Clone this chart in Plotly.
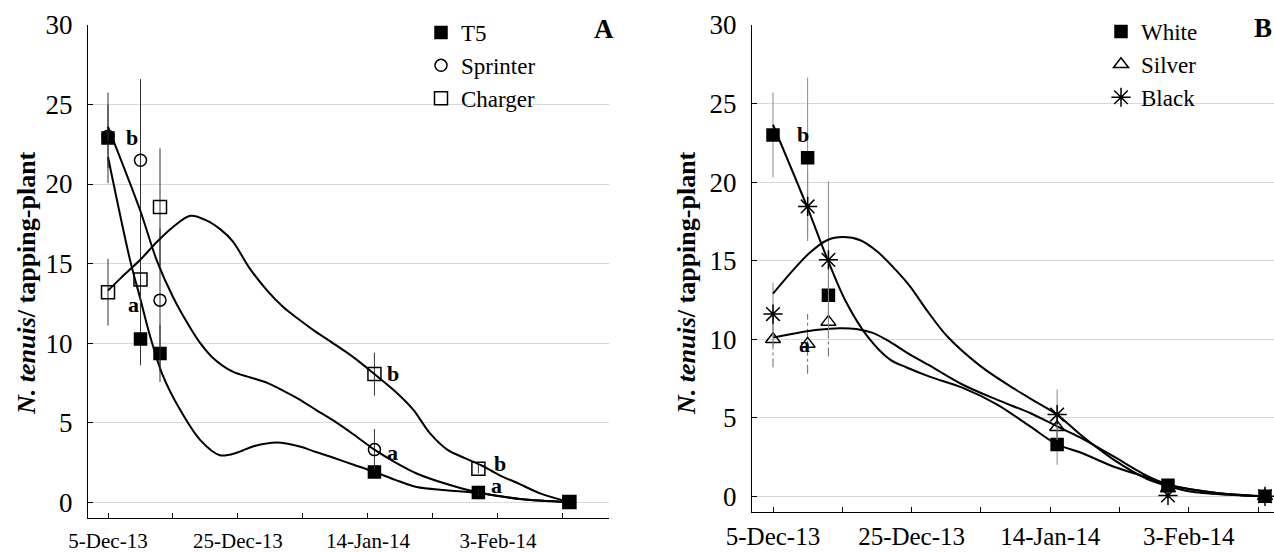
import plotly.graph_objects as go
import pandas as pd

# ---------------- data ----------------
dates = ["2013-12-05", "2013-12-10", "2013-12-13", "2014-01-15", "2014-01-31", "2014-02-14"]
start = pd.Timestamp("2013-12-05")

# Panel A (cultivars)
t5 = [22.9, 10.25, 9.35, 1.9, 0.6, 0.0]
t5_err = [2.85, 1.65, 1.8, 0.3, 0.2, 0.0]
sprinter = [23.0, 21.5, 12.7, 3.3, 0.6, 0.0]
sprinter_err = [2.0, 5.1, 4.5, 1.3, 0.2, 0.0]
charger = [13.2, 14.0, 18.55, 8.05, 2.1, 0.0]
charger_err = [2.1, 2.5, 3.7, 1.35, 0.3, 0.0]

# Panel B (mulch colour)
white = [23.0, 21.55, 12.8, 3.3, 0.7, 0.0]
white_err = [2.7, 5.1, 1.5, 1.3, 0.2, 0.0]
silver = [10.0, 9.7, 11.1, 4.4, 0.5, 0.0]
silver_err = [1.8, 1.9, 2.2, 0.8, 0.2, 0.0]
black = [11.6, 18.45, 15.05, 5.2, 0.05, 0.0]
black_err = [2.0, 2.2, 5.0, 1.6, 0.2, 0.0]

# fitted trend curves (days after 5-Dec-13, value)
t5_fit_days = [0, 3.4, 4.9, 6.5, 8.3, 11.1, 14.2, 17.2, 19.8, 22.3, 26.0, 29.5, 32.0, 34.6, 37.8, 41, 44.2,
               47.5, 52.0, 57, 63.4, 71]
t5_fit_vals = [21.7, 15.2, 12.9, 10.4, 8.1, 5.8, 3.9, 2.95, 3.1, 3.5, 3.75, 3.5, 3.15, 2.8, 2.35, 1.9, 1.4,
               0.95, 0.75, 0.57, 0.2, 0.0]
sprinter_fit_days = [0, 4.9, 7.5, 10.0, 12.6, 14.2, 16.2, 19.2, 21.8, 24.5, 27.0, 29.5, 32.0, 34.6, 37.8, 41,
                     44.2, 47.5, 52.0, 57, 63.4, 71]
sprinter_fit_vals = [23.6, 18.4, 15.2, 12.9, 11.0, 10.0, 9.05, 8.2, 7.85, 7.5, 7.0, 6.45, 5.8, 5.15, 4.25, 3.3,
                     2.5, 1.8, 1.15, 0.6, 0.2, 0.0]
charger_fit_days = [0, 2.0, 5.0, 7.5, 10.0, 12.7, 15.2, 17.3, 19.2, 21.8, 24.5, 27.0, 29.5, 32.0, 34.6, 37.8,
                    41, 44.5, 47.0, 49.5, 52.2, 55.0, 57.5, 60.2, 63.0, 66.5, 71]
charger_fit_vals = [13.3, 14.1, 15.25, 16.35, 17.3, 18.0, 17.7, 17.15, 16.4, 14.7, 13.3, 12.25, 11.45, 10.7,
                    10.0, 9.1, 8.05, 6.85, 5.8, 4.35, 3.3, 2.75, 2.3, 1.7, 1.2, 0.55, 0.0]

white_fit_days = [0, 4.9, 7.9, 10.4, 13.6, 16.9, 19.3, 22.7, 27.4, 32.3, 37.1, 41, 44.3, 49.1, 54.0, 57, 60.2, 65.5, 71]
white_fit_vals = [23.65, 18.45, 15.05, 12.5, 10.2, 8.7, 8.2, 7.6, 6.9, 5.85, 4.45, 3.3, 2.8, 1.9, 1.2, 0.75, 0.45, 0.15, 0.0]
silver_fit_days = [0, 3.5, 6.5, 9.6, 12.0, 14.4, 17.0, 19.3, 22.7, 27.4, 32.3, 37.1, 41, 44.3, 49.1, 54.0, 57, 60.2, 65.5, 71]
silver_fit_vals = [10.1, 10.4, 10.6, 10.7, 10.65, 10.4, 9.8, 9.15, 8.3, 7.1, 6.15, 5.3, 4.45, 3.75, 2.55, 1.3, 0.75, 0.45, 0.15, 0.0]
black_fit_days = [0, 2.9, 5.3, 7.8, 10.1, 12.6, 15.0, 17.3, 19.8, 22.1, 25.1, 29.9, 34.6, 38.0, 41, 44.3, 49.1, 54.0, 57, 60.2, 65.5, 71]
black_fit_vals = [12.9, 14.4, 15.5, 16.3, 16.5, 16.3, 15.6, 14.6, 13.35, 11.9, 10.2, 8.3, 6.9, 6.0, 5.2, 3.95, 2.35, 1.1, 0.65, 0.3, 0.1, 0.0]

tick_dates = ["2013-12-05", "2013-12-25", "2014-01-14", "2014-02-03"]
tick_text = ["5-Dec-13", "25-Dec-13", "14-Jan-14", "3-Feb-14"]

FONT = "Liberation Serif"


def days_to_dates(days):
    return [start + pd.Timedelta(days=d) for d in days]


def err_segments(vals, errs):
    xs, ys = [], []
    for d, v, e in zip(dates, vals, errs):
        if e > 0:
            xs += [d, d, None]
            ys += [v - e, v + e, None]
    return xs, ys


fig = go.Figure()


def add_series(name, vals, errs, fit_days, fit_vals, symbol, size, xa, ya, legend,
               err_color="#333333", err_dash="solid", lw=1.5):
    ex, ey = err_segments(vals, errs)
    fig.add_trace(go.Scatter(x=ex, y=ey, mode="lines", xaxis=xa, yaxis=ya,
                             line=dict(color=err_color, width=1, dash=err_dash),
                             showlegend=False, hoverinfo="skip"))
    fig.add_trace(go.Scatter(x=days_to_dates(fit_days), y=fit_vals, mode="lines", xaxis=xa, yaxis=ya,
                             line=dict(color="black", width=2, shape="spline", smoothing=0.9),
                             showlegend=False, hoverinfo="skip"))
    fig.add_trace(go.Scatter(x=dates, y=vals, mode="markers", name=name, xaxis=xa, yaxis=ya,
                             legend=legend,
                             marker=dict(symbol=symbol, size=size, color="black",
                                         line=dict(color="black", width=lw))))


add_series("T5", t5, t5_err, t5_fit_days, t5_fit_vals, "square", 12, "x", "y", "legend")
add_series("Sprinter", sprinter, sprinter_err, sprinter_fit_days, sprinter_fit_vals, "circle-open", 12, "x", "y", "legend")
add_series("Charger", charger, charger_err, charger_fit_days, charger_fit_vals, "square-open", 13, "x", "y", "legend")

add_series("White", white, white_err, white_fit_days, white_fit_vals, "square", 12, "x2", "y2", "legend2",
           err_color="#888888")
add_series("Silver", silver, silver_err, silver_fit_days, silver_fit_vals, "triangle-up-open", 13, "x2", "y2", "legend2",
           err_color="#666666", err_dash="dashdot")
add_series("Black", black, black_err, black_fit_days, black_fit_vals, "asterisk-open", 16, "x2", "y2", "legend2",
           err_color="#888888")

W, H = 1274, 552


def px(x):
    return x / W


def py(y):
    return 1 - y / H


xrange_a = [start + pd.Timedelta(days=-3.08), start + pd.Timedelta(days=77.1)]
xrange_b = [start + pd.Timedelta(days=-3.03), start + pd.Timedelta(days=72.3)]

common_x = dict(type="date", showgrid=False, showline=True, linecolor="black", linewidth=1,
                ticks="inside", ticklen=5, tickcolor="black", automargin=False,
                tickmode="array", tickvals=tick_dates, ticktext=tick_text,
                minor=dict(tickmode="linear", tick0="2013-12-05", dtick=10 * 86400000,
                           ticks="inside", ticklen=5, tickcolor="black", showgrid=False),
                zeroline=False)
common_y = dict(range=[-1, 30], dtick=5, tick0=0, showgrid=True, gridcolor="#d9d9d9", gridwidth=1,
                showline=True, linecolor="black", linewidth=1, ticks="inside", ticklen=5,
                tickcolor="black", zeroline=False, automargin=False,
                tickfont=dict(family=FONT, size=27, color="black"), ticklabelstandoff=9)

fig.update_layout(
    width=W, height=H, margin=dict(l=0, r=0, t=0, b=0, autoexpand=False),
    paper_bgcolor="white", plot_bgcolor="white",
    font=dict(family=FONT, color="black"),
    xaxis=dict(domain=[px(88), px(609)], range=xrange_a, anchor="y",
               tickfont=dict(family=FONT, size=21, color="black"), ticklabelstandoff=4, **common_x),
    yaxis=dict(domain=[py(518), py(25)], anchor="x", **common_y),
    xaxis2=dict(domain=[px(752), 1.0], range=xrange_b, anchor="y2",
                tickfont=dict(family=FONT, size=25, color="black"), ticklabelstandoff=2, **common_x),
    yaxis2=dict(domain=[py(512), py(25)], anchor="x2", **common_y),
    legend=dict(x=px(421), y=py(11), xanchor="left", yanchor="top", bgcolor="rgba(0,0,0,0)",
                font=dict(family=FONT, size=23, color="black"), tracegroupgap=0, itemwidth=30),
    legend2=dict(x=px(1101), y=py(10), xanchor="left", yanchor="top", bgcolor="rgba(0,0,0,0)",
                 font=dict(family=FONT, size=23, color="black"), tracegroupgap=0, itemwidth=30),
    showlegend=True,
)

ytitle = "<b><i>N. tenuis</i>/ tapping-plant</b>"
annotations = [
    dict(text=ytitle, x=px(27), y=py(283), xref="paper", yref="paper", textangle=-90,
         xanchor="center", yanchor="middle",
         showarrow=False, font=dict(family=FONT, size=26, color="black")),
    dict(text=ytitle, x=px(687), y=py(283), xref="paper", yref="paper", textangle=-90,
         xanchor="center", yanchor="middle",
         showarrow=False, font=dict(family=FONT, size=26, color="black")),
    dict(text="<b>A</b>", x=px(604), y=py(29), xref="paper", yref="paper", showarrow=False,
         xanchor="center", yanchor="middle", font=dict(family=FONT, size=27, color="black")),
    dict(text="<b>B</b>", x=px(1263), y=py(28), xref="paper", yref="paper", showarrow=False,
         xanchor="center", yanchor="middle", font=dict(family=FONT, size=27, color="black")),
]

letters_a = [("b", 3.7, 22.95), ("a", 3.85, 12.4), ("b", 43.8, 8.1), ("a", 43.8, 3.1),
             ("b", 60.3, 2.45), ("a", 59.8, 1.05)]
letters_b = [("b", 4.3, 23.0), ("a", 4.6, 9.65)]
for t, d, v in letters_a:
    annotations.append(dict(text="<b>%s</b>" % t, x=start + pd.Timedelta(days=d), y=v, xref="x", yref="y",
                            xanchor="center", yanchor="middle",
                            showarrow=False, font=dict(family=FONT, size=22, color="black")))
for t, d, v in letters_b:
    annotations.append(dict(text="<b>%s</b>" % t, x=start + pd.Timedelta(days=d), y=v, xref="x2", yref="y2",
                            xanchor="center", yanchor="middle",
                            showarrow=False, font=dict(family=FONT, size=22, color="black")))
fig.update_layout(annotations=annotations)

fig.write_html("out.html", config={"displayModeBar": False},
               post_script="document.body.style.margin='0';")
